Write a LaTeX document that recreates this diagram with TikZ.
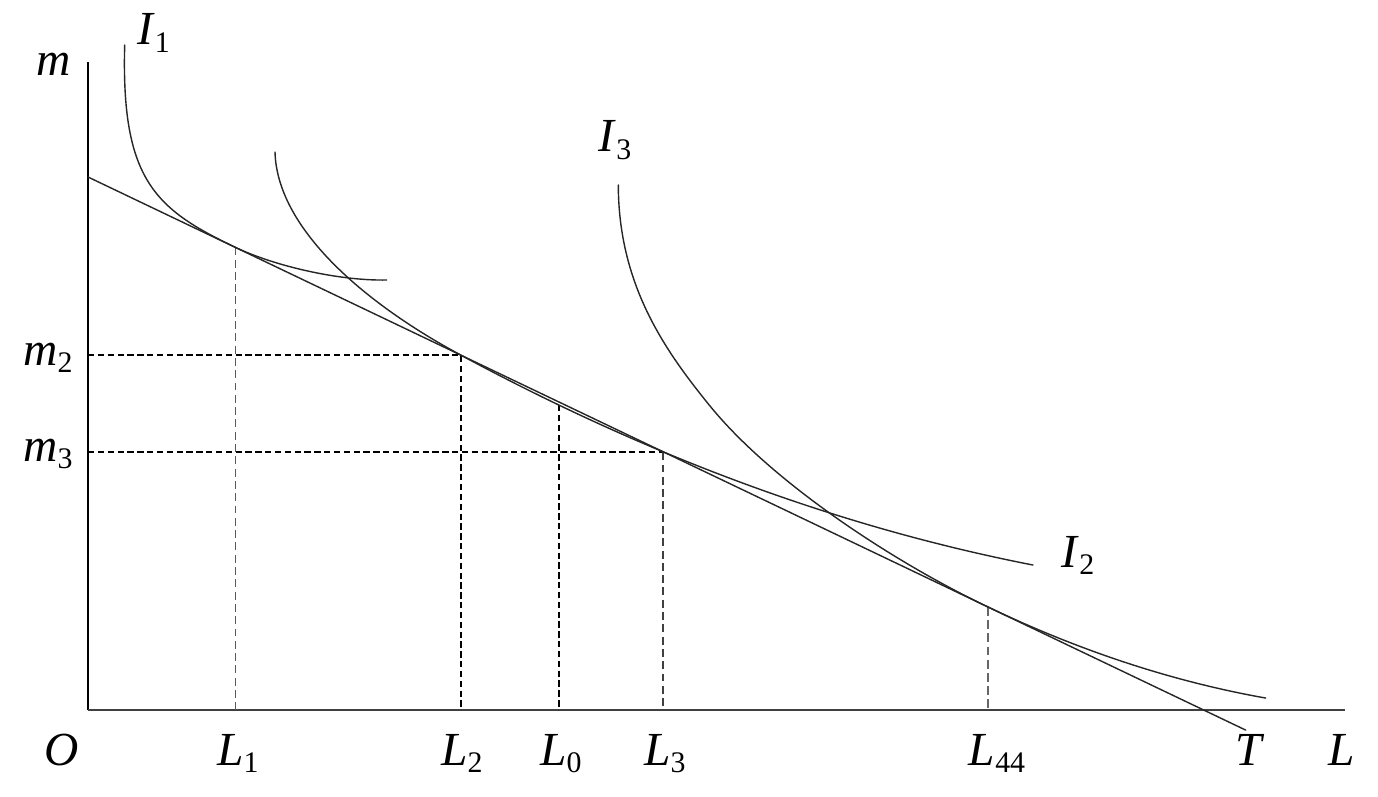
\documentclass[tikz,border=0pt]{standalone}
\usepackage{fontspec}
\setmainfont{Liberation Serif}
\newcommand{\lbsub}[2]{\textit{#1}\raisebox{-4.5pt}{\fontsize{17}{17}\selectfont #2}}
\begin{document}
\begin{tikzpicture}[x=0.02cm,y=-0.02cm,
  lab/.style={anchor=base, inner sep=0pt, font=\fontsize{27}{32}\selectfont},
  curve/.style={line width=0.8pt, draw=black!85, line cap=round, line join=round},
  axisline/.style={line width=1pt, draw=black},
  guideA/.style={line width=0.9pt, draw=black, dash pattern=on 3.6pt off 2pt},
  guideB/.style={line width=0.5pt, draw=black!65, dash pattern=on 4.5pt off 2.5pt},
  guideC/.style={line width=0.7pt, draw=black!60, dash pattern=on 5pt off 2.5pt}]
\useasboundingbox (0,0) rectangle (1378,797);

% key points
\coordinate (top) at (88,62);
\coordinate (O) at (88,710);
\coordinate (xend) at (1345,710);
\coordinate (Ts) at (88,177);
\coordinate (Te) at (1245.7,730.1);
\coordinate (P1) at (235.3,247.3);
\coordinate (P2) at (461,355.2);
\coordinate (P0) at (559,405);
\coordinate (P3) at (663,452.2);
\coordinate (P4) at (988,607);
\coordinate (A1) at (235.3,710);
\coordinate (A2) at (461,710);
\coordinate (A0) at (559,710);
\coordinate (A3) at (663,710);
\coordinate (A4) at (988,710);
\coordinate (M2) at (88,355.2);
\coordinate (M3) at (88,452.2);

% axes
\draw[axisline] (top) -- (O);
\draw[axisline, draw=black!75] (O) -- (xend);

% guide lines
\draw[guideB] (P1) -- (A1);
\draw[guideA] (M2) -- (P2) -- (A2);
\draw[guideA] (P0) -- (A0);
\draw[guideA] (M3) -- (P3);
\draw[guideB, line width=0.6pt, draw=black!75] (P3) -- (A3);
\draw[guideC] (P4) -- (A4);

% budget line T
\draw[curve] (Ts) -- (Te);

% I1
\draw[curve] (124.7,45) .. controls (121,180) and (155.3,209.1) .. (P1)
  .. controls (275.3,266.4) and (340,281) .. (386.7,280);

% I2
\draw[curve] (275,152) .. controls (277,227) and (361,301.4) .. (P2)
  -- plot[domain=461:1033, samples=60] (\x, {177+0.4778*(\x-88)-3*(\x/100-4.61)*(\x/100-6.63)});

% I3
\draw[curve] (618.3,185) .. controls (618.5,285) and (665,350.6) .. (710,406)
  .. controls (770,479.8) and (888,559.2) .. (P4)
  -- plot[domain=988:1265.7, samples=40] (\x, {177+0.4778*(\x-88)-5.4*(\x/100-9.88)*(\x/100-9.88)});

% labels
\node[lab] (lm) at (54,76) {\textit{m}};
\node[lab] (lI1) at (153.5,45) {\lbsub{I}{1}};
\node[lab] (lI3) at (615,152) {\lbsub{I}{3}};
\node[lab] (lI2) at (1078,567) {\lbsub{I}{2}};
\node[lab] (lm2) at (48,365) {\lbsub{m}{2}};
\node[lab] (lm3) at (48,461) {\lbsub{m}{3}};
\node[lab] (lO) at (62,765) {\textit{O}};
\node[lab] (lL1) at (238,765) {\lbsub{L}{1}};
\node[lab] (lL2) at (462,765) {\lbsub{L}{2}};
\node[lab] (lL0) at (561,765) {\lbsub{L}{0}};
\node[lab] (lL3) at (665,765) {\lbsub{L}{3}};
\node[lab] (lL44) at (997,765) {\lbsub{L}{44}};
\node[lab] (lT) at (1250,765) {\textit{T}};
\node[lab] (lL) at (1341.5,765) {\textit{L}};
\end{tikzpicture}
\end{document}
